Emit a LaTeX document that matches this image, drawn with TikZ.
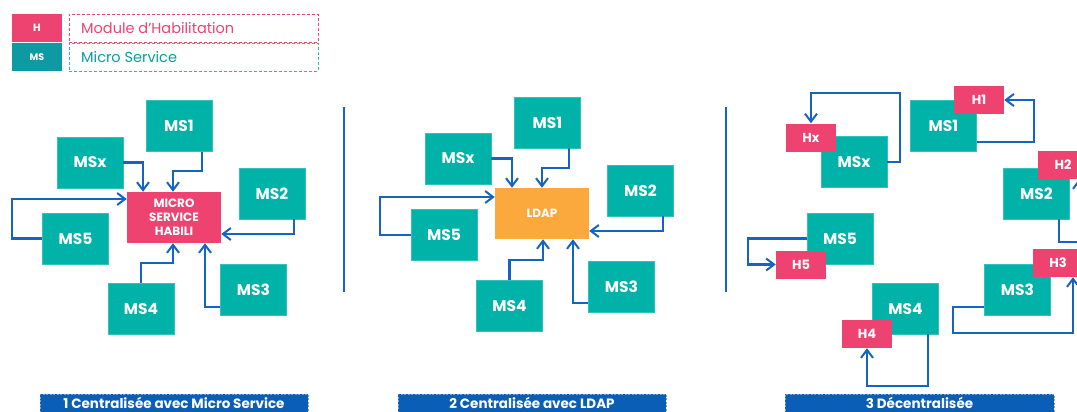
\documentclass[tikz,border=0pt]{standalone}
\usepackage{fontspec}
\setmainfont{Poppins}
\usetikzlibrary{arrows.meta}
\definecolor{msteal}{RGB}{0,178,168}
\definecolor{legteal}{RGB}{14,154,162}
\definecolor{hpink}{RGB}{238,66,112}
\definecolor{ldaporange}{RGB}{251,168,60}
\definecolor{lineblue}{RGB}{21,101,192}
\definecolor{labblue}{RGB}{10,94,182}
\definecolor{labedge}{RGB}{120,160,220}
\tikzset{
  msbox/.style={fill=msteal, draw=msteal!80!white, line width=0.4pt, minimum width=66pt, minimum height=51pt, inner sep=0pt, text=white, font=\bfseries\fontsize{15.5}{17}\selectfont},
  hbox/.style={fill=hpink, minimum width=50pt, minimum height=28pt, inner sep=0pt, text=white, font=\bfseries\fontsize{13}{15}\selectfont},
  centerbox/.style={minimum width=94pt, minimum height=51pt, inner sep=0pt, text=white, align=center, font=\bfseries\fontsize{12}{14}\selectfont},
  conn/.style={draw=lineblue, line width=2.3pt, -{Straight Barb[length=8pt,width=12pt,line width=2pt]}},
  sepline/.style={draw=lineblue, line width=2.3pt},
  labbox/.style={fill=labblue, draw=labedge, dashed, dash pattern=on 2pt off 1.5pt, line width=0.6pt, minimum height=18pt, inner sep=0pt, text=white, font=\bfseries\fontsize{13.5}{15}\selectfont},
  legdash/.style={dashed, dash pattern=on 3pt off 2pt, line width=0.9pt, minimum width=249pt, minimum height=28pt, inner sep=0pt},
}
\begin{document}
\begin{tikzpicture}[x=1pt,y=-1pt]
\clip (0,0) rectangle (1077,412);
\fill[white] (0,0) rectangle (1077,412);

% legend
\node[hbox, font=\bfseries\fontsize{10.5}{12}\selectfont] (legH) at (37,28) {H};
\node[hbox, fill=legteal, font=\bfseries\fontsize{9.5}{11}\selectfont] (legMS) at (37,57) {MS};
\node[legdash, draw=hpink] (legHbox) at (193.5,28) {};
\node[legdash, draw=legteal!80!white] (legMSbox) at (193.5,57) {};
\node[anchor=west, text=hpink, font=\fontsize{14.5}{16}\selectfont, inner sep=0pt] (legHtxt) at (81,28) {Module d'Habilitation};
\node[anchor=west, text=legteal, font=\fontsize{14.5}{16}\selectfont, inner sep=0pt] (legMStxt) at (81,57) {Micro Service};

% separators
\coordinate (s1a) at (344,107); \coordinate (s1b) at (344,292);
\coordinate (s2a) at (726,107); \coordinate (s2b) at (726,292);
\draw[sepline] (s1a) -- (s1b);
\draw[sepline] (s2a) -- (s2b);

% panel 1
\node[centerbox, fill=hpink] (c1) at (174,217.5) {MICRO\\SERVICE\\HABILI};
\node[msbox] (p11) at (179,126) {MS1};
\node[msbox] (p1x) at (90,162.5) {MSx};
\node[msbox] (p12) at (272,193.5) {MS2};
\node[msbox] (p15) at (75.5,238.5) {MS5};
\node[msbox] (p14) at (141,308.5) {MS4};
\node[msbox] (p13) at (253.5,289.5) {MS3};
\draw[conn] (p1x.east) -| ([xshift=-31pt]c1.north);
\draw[conn] ([xshift=23pt]p11.south) -- ++(0,19) -| ([xshift=-1pt]c1.north);
\draw[conn] (p15.west) -- ++(-30,0) |- ([yshift=18.5pt]c1.west);
\draw[conn] ([xshift=22pt]p12.south) |- ([yshift=-16.5pt]c1.east);
\draw[conn] (p14.north) -- ++(0,-20) -| ([xshift=-1pt]c1.south);
\draw[conn] ([yshift=-17.5pt]p13.west) -| ([xshift=31pt]c1.south);

% panel 2
\node[centerbox, fill=ldaporange] (c2) at (542,213.5) {LDAP};
\node[msbox] (p21) at (547.5,122.5) {MS1};
\node[msbox] (p2x) at (458,158.5) {MSx};
\node[msbox] (p22) at (640.5,190.5) {MS2};
\node[msbox] (p25) at (444,235) {MS5};
\node[msbox] (p24) at (509.5,305.5) {MS4};
\node[msbox] (p23) at (621.5,286.5) {MS3};
\draw[conn] (p2x.east) -| ([xshift=-30pt]c2.north);
\draw[conn] ([xshift=21.5pt]p21.south) -- ++(0,20) -| (c2.north);
\draw[conn] (p25.west) -- ++(-31,0) |- ([yshift=16.5pt]c2.west);
\draw[conn] ([xshift=22.5pt]p22.south) |- ([yshift=-17.5pt]c2.east);
\draw[conn] (p24.north) -- ++(0,-20) -| ([xshift=1pt]c2.south);
\draw[conn] ([yshift=-16.5pt]p23.west) -| ([xshift=31pt]c2.south);

% panel 3
\node[msbox] (q3x) at (854,162) {MSx};
\node[hbox] (h3x) at (811,137.5) {Hx};
\node[msbox] (q31) at (943.5,125.5) {MS1};
\node[hbox] (h31) at (979,100) {H1};
\node[msbox] (q32) at (1036.5,193.5) {MS2};
\node[hbox] (h32) at (1063,165) {H2};
\node[msbox] (q35) at (840,238.5) {MS5};
\node[hbox] (h35) at (801,264.5) {H5};
\node[msbox] (q34) at (905.5,308.5) {MS4};
\node[hbox] (h34) at (867,334) {H4};
\node[msbox] (q33) at (1017.5,289.5) {MS3};
\node[hbox] (h33) at (1058,263) {H3};
\draw[conn] (q3x.east) -- ++(13,0) -- ++(0,-69) -| (h3x.north);
\draw[conn] ([yshift=-16.5pt]q31.east) -- ++(57,0) |- (h31.east);
\draw[conn] ([xshift=22.5pt]q32.south) -- ++(0,23) -| ([xshift=16pt]h32.south);
\draw[conn] (q35.west) -- ++(-59,0) |- (h35.west);
\draw[conn] ([xshift=22.5pt]q34.south) -- ++(0,52) -| (h34.south);
\draw[conn] ([yshift=-17.5pt]q33.west) -- ++(-31,0) -- ++(0,26) -| ([xshift=15pt]h33.south);

% bottom labels
\node[labbox, minimum width=268pt] (lab1) at (174,403) {1 Centralisée avec Micro Service};
\node[labbox, minimum width=268pt] (lab2) at (532,403) {2 Centralisée avec LDAP};
\node[labbox, minimum width=269pt] (lab3) at (919.5,403) {3 Décentralisée};
\end{tikzpicture}
\end{document}
